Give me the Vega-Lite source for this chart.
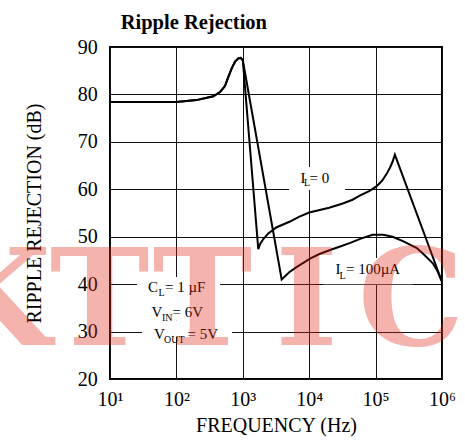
{
  "$schema": "https://vega.github.io/schema/vega-lite/v6.json",
  "width": 332,
  "height": 332,
  "autosize": {"type": "none"},
  "padding": {"left": 110, "top": 47, "right": 23, "bottom": 66},
  "background": "white",
  "title": {"text": "Ripple Rejection", "anchor": "start", "frame": "group", "dx": 10.7, "dy": 23, "fontSize": 20.5, "font": "Liberation Serif", "fontWeight": "bold", "color": "black", "baseline": "alphabetic", "offset": 11},
  "config": {"view": {"stroke": "black", "strokeWidth": 2}, "font": "Liberation Serif"},
  "datasets": {
    "curves": [
      {"f": 10, "db": 78.4, "s": "IL0"}, {"f": 100, "db": 78.4, "s": "IL0"}, {"f": 200, "db": 78.8, "s": "IL0"}, {"f": 360, "db": 79.6, "s": "IL0"}, {"f": 454, "db": 80.5, "s": "IL0"}, {"f": 540, "db": 81.8, "s": "IL0"}, {"f": 606, "db": 83.7, "s": "IL0"}, {"f": 681, "db": 85.5, "s": "IL0"}, {"f": 764, "db": 86.9, "s": "IL0"}, {"f": 856, "db": 87.6, "s": "IL0"}, {"f": 929, "db": 87.7, "s": "IL0"}, {"f": 1000, "db": 87.2, "s": "IL0"},
      {"f": 1710, "db": 47.4, "s": "IL0"}, {"f": 1816, "db": 48.4, "s": "IL0"}, {"f": 2037, "db": 49.5, "s": "IL0"}, {"f": 2421, "db": 50.7, "s": "IL0"}, {"f": 3240, "db": 52.0, "s": "IL0"}, {"f": 5140, "db": 53.2, "s": "IL0"}, {"f": 7000, "db": 54.2, "s": "IL0"}, {"f": 10000, "db": 55.1, "s": "IL0"}, {"f": 20000, "db": 56.1, "s": "IL0"}, {"f": 32000, "db": 57.0, "s": "IL0"}, {"f": 45000, "db": 57.8, "s": "IL0"}, {"f": 58600, "db": 58.7, "s": "IL0"}, {"f": 80000, "db": 59.6, "s": "IL0"}, {"f": 103000, "db": 60.6, "s": "IL0"}, {"f": 125000, "db": 61.8, "s": "IL0"}, {"f": 146000, "db": 63.2, "s": "IL0"}, {"f": 165000, "db": 64.6, "s": "IL0"}, {"f": 180000, "db": 65.8, "s": "IL0"}, {"f": 195000, "db": 67.3, "s": "IL0"}, {"f": 1000000, "db": 40.5, "s": "IL0"},
      {"f": 10, "db": 78.4, "s": "IL100"}, {"f": 100, "db": 78.4, "s": "IL100"}, {"f": 200, "db": 78.8, "s": "IL100"}, {"f": 360, "db": 79.6, "s": "IL100"}, {"f": 454, "db": 80.5, "s": "IL100"}, {"f": 540, "db": 81.8, "s": "IL100"}, {"f": 606, "db": 83.7, "s": "IL100"}, {"f": 681, "db": 85.5, "s": "IL100"}, {"f": 764, "db": 86.9, "s": "IL100"}, {"f": 856, "db": 87.6, "s": "IL100"}, {"f": 929, "db": 87.7, "s": "IL100"}, {"f": 1000, "db": 87.2, "s": "IL100"},
      {"f": 3850, "db": 41.0, "s": "IL100"}, {"f": 5000, "db": 42.5, "s": "IL100"}, {"f": 6440, "db": 43.6, "s": "IL100"}, {"f": 10300, "db": 45.4, "s": "IL100"}, {"f": 14000, "db": 46.3, "s": "IL100"}, {"f": 20600, "db": 47.2, "s": "IL100"}, {"f": 30000, "db": 48.0, "s": "IL100"}, {"f": 41500, "db": 48.7, "s": "IL100"}, {"f": 60000, "db": 49.6, "s": "IL100"}, {"f": 90000, "db": 50.4, "s": "IL100"}, {"f": 130000, "db": 50.4, "s": "IL100"}, {"f": 180000, "db": 50.0, "s": "IL100"}, {"f": 263000, "db": 49.0, "s": "IL100"}, {"f": 417000, "db": 47.6, "s": "IL100"}, {"f": 520000, "db": 46.4, "s": "IL100"}, {"f": 727000, "db": 44.4, "s": "IL100"}, {"f": 850000, "db": 42.8, "s": "IL100"}, {"f": 1000000, "db": 40.5, "s": "IL100"}
    ],
    "boxes": [
      {"f": 4966, "f2": 34600, "db": 59.85, "db2": 64.7},
      {"f": 16140, "f2": 365600, "db": 40, "db2": 45.5},
      {"f": 25.5, "f2": 454, "db": 37.1, "db2": 41.5},
      {"f": 33.6, "f2": 343, "db": 32.4, "db2": 37.1},
      {"f": 30.3, "f2": 687, "db": 28.85, "db2": 32.4}
    ],
    "labels": [
      {"f": 7400, "db": 61.4, "t": "I", "k": "main"}, {"f": 10100, "db": 61.4, "t": "= 0", "k": "main"},
      {"f": 24900, "db": 42.1, "t": "I", "k": "main"}, {"f": 35800, "db": 42.1, "t": "= 100µA", "k": "main"},
      {"f": 37.3, "db": 38.4, "t": "C", "k": "main"}, {"f": 67.3, "db": 38.4, "t": "= 1 µF", "k": "main"},
      {"f": 42.2, "db": 33.1, "t": "V", "k": "main"}, {"f": 87.3, "db": 33.1, "t": "= 6V", "k": "main"},
      {"f": 46.0, "db": 28.4, "t": "V", "k": "main"}, {"f": 147, "db": 28.4, "t": "= 5V", "k": "main"},
      {"f": 8360, "db": 60.7, "t": "L", "k": "sub"}, {"f": 28600, "db": 41.1, "t": "L", "k": "sub"},
      {"f": 53.7, "db": 37.5, "t": "L", "k": "sub"}, {"f": 60.7, "db": 32.2, "t": "IN", "k": "sub"},
      {"f": 65.0, "db": 27.5, "t": "OUT", "k": "sub"}
    ],
    "watermark": [
      {"f": 0.173, "db": 27.2, "t": "K"},
      {"f": 6.95, "db": 27.2, "t": "T"},
      {"f": 247, "db": 27.2, "t": "T"},
      {"f": 9120, "db": 27.2, "t": "I"},
      {"f": 341000, "db": 27.2, "t": "C"}
    ]
  },
  "encoding": {
    "x": {
      "field": "f", "type": "quantitative",
      "scale": {"type": "log", "domain": [10, 1000000], "nice": false},
      "axis": {
        "values": [10, 100, 1000, 10000, 100000, 1000000],
        "labelExpr": "'10' + ['⁰','¹','²','³','⁴','⁵','⁶'][round(log(datum.value)/LN10)]",
        "grid": true, "gridColor": "#111", "gridWidth": 1, "gridOpacity": 1,
        "domain": false, "ticks": false, "tickSize": 0,
        "labelPadding": 26, "labelBaseline": "alphabetic", "labelFontSize": 20, "labelColor": "black", "labelFont": "Liberation Serif",
        "labelFlush": false, "labelOverlap": false,
        "title": "FREQUENCY (Hz)", "titleFontSize": 20, "titleFontWeight": "normal", "titleColor": "black", "titleFont": "Liberation Serif",
        "titleBaseline": "alphabetic", "titleY": 52.7, "titleX": 166, "titleAlign": "center"
      }
    },
    "y": {
      "field": "db", "type": "quantitative",
      "scale": {"domain": [20, 90], "nice": false},
      "axis": {
        "values": [20, 30, 40, 50, 60, 70, 80, 90],
        "grid": true, "gridColor": "#111", "gridWidth": 1, "gridOpacity": 1,
        "domain": false, "ticks": false, "tickSize": 0,
        "labelPadding": 12.7, "labelBaseline": "middle", "labelFontSize": 20, "labelColor": "black", "labelFont": "Liberation Serif",
        "labelOverlap": false, "labelFlush": false,
        "title": "RIPPLE REJECTION (dB)", "titleFontSize": 20, "titleFontWeight": "normal", "titleColor": "black", "titleFont": "Liberation Serif",
        "titleBaseline": "alphabetic", "titleAngle": -90, "titleX": -70, "titleY": 166, "titleAlign": "center"
      }
    }
  },
  "layer": [
    {
      "data": {"name": "boxes"},
      "mark": {"type": "rect", "fill": "white", "stroke": null},
      "encoding": {"x2": {"field": "f2"}, "y2": {"field": "db2"}}
    },
    {
      "data": {"name": "curves"},
      "mark": {"type": "line", "color": "black", "strokeWidth": 2, "clip": true},
      "encoding": {"detail": {"field": "s", "type": "nominal"}}
    },
    {
      "data": {"name": "labels"},
      "transform": [{"filter": "datum.k === 'main'"}],
      "mark": {"type": "text", "align": "left", "baseline": "alphabetic", "fontSize": 15, "font": "Liberation Serif", "color": "black"},
      "encoding": {"text": {"field": "t"}}
    },
    {
      "data": {"name": "labels"},
      "transform": [{"filter": "datum.k === 'sub'"}],
      "mark": {"type": "text", "align": "left", "baseline": "alphabetic", "fontSize": 10, "font": "Liberation Serif", "color": "black"},
      "encoding": {"text": {"field": "t"}}
    },
    {
      "data": {"name": "watermark"},
      "mark": {"type": "text", "align": "center", "baseline": "alphabetic", "fontSize": 134, "font": "DejaVu Serif", "fontWeight": "bold", "color": "#e02818", "opacity": 0.35},
      "encoding": {"text": {"field": "t"}}
    }
  ]
}
